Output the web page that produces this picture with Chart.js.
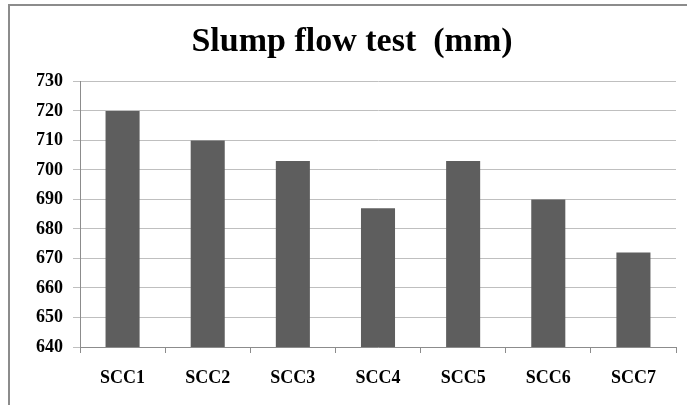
<!DOCTYPE html>
<html>
<head>
<meta charset="utf-8">
<script src="https://cdn.jsdelivr.net/npm/chart.js@4"></script>
<style>
  html, body { margin: 0; padding: 0; background: #fff; overflow: hidden; }
  #wrap { position: relative; width: 687px; height: 405px; }
  #frame { position: absolute; left: 8px; top: 4px; width: 700px; height: 420px; border: 2px solid #8c8c8c; box-sizing: border-box; }
  canvas { position: absolute; left: 0; top: 0; }
</style>
</head>
<body>
<div id="wrap">
  <div id="frame"></div>
  <canvas id="chart" width="687" height="405"></canvas>
</div>
<script>
// Data
const mixes = ['SCC1', 'SCC2', 'SCC3', 'SCC4', 'SCC5', 'SCC6', 'SCC7'];
const slumpFlow = [720, 710, 703, 687, 703, 690, 672];
const yMin = 640, yMax = 730, yStep = 10;

const serif = "'Liberation Serif', 'Times New Roman', serif";

new Chart(document.getElementById('chart'), {
    type: 'bar',
    data: {
        labels: mixes,
        datasets: [{
            label: 'Slump flow',
            data: slumpFlow,
            backgroundColor: '#5e5e5e',
            borderWidth: 0,
            barPercentage: 0.4,
            categoryPercentage: 1
        }]
    },
    options: {
        responsive: false,
        animation: false,
        // left padding shifts the title centre to the right, y axis width makes up for it
        layout: { padding: { left: 28, right: 11, top: 0, bottom: 0 } },
        plugins: {
            legend: { display: false },
            tooltip: { enabled: false },
            title: {
                display: true,
                text: 'Slump flow test  (mm)',
                color: '#000',
                font: { family: serif, size: 34, weight: 'bold', lineHeight: 1.1 },
                padding: { top: 24, bottom: 20 }
            }
        },
        scales: {
            x: {
                grid: { drawOnChartArea: false, drawTicks: true, tickLength: 6, color: '#8c8c8c' },
                border: { color: '#8c8c8c', width: 1 },
                ticks: { color: '#000', padding: 15, font: { family: serif, size: 18, weight: 'bold' } },
                afterFit: function(scale) { scale.height = 58; }
            },
            y: {
                min: yMin,
                max: yMax,
                grid: { color: '#bfbfbf', tickLength: 7 },
                border: { color: '#8c8c8c', width: 1 },
                ticks: { stepSize: yStep, color: '#000', padding: 10, font: { family: serif, size: 18, weight: 'bold' } },
                afterFit: function(scale) { scale.width = 52; }
            }
        }
    }
});
</script>
</body>
</html>
